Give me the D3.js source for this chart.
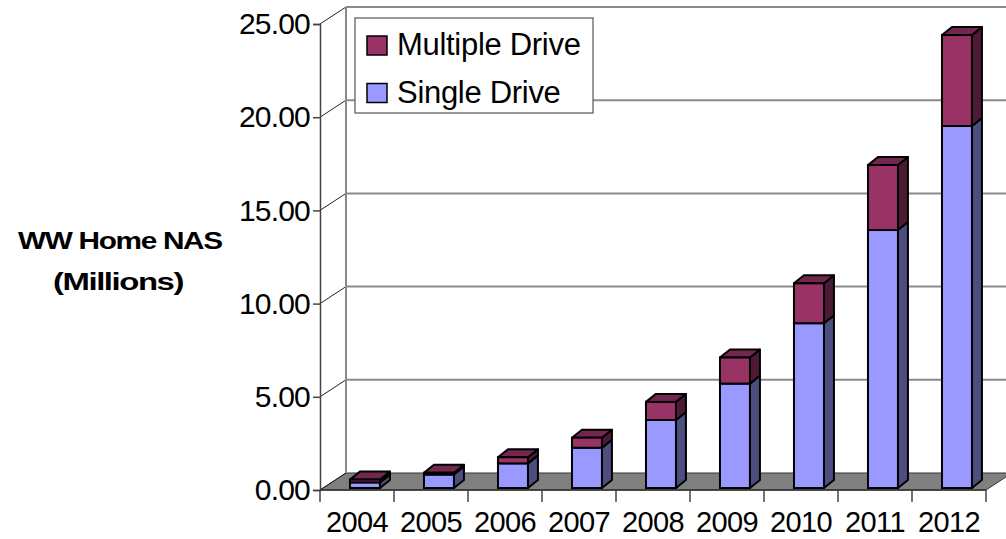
<!DOCTYPE html>
<html lang="en">
<head>
  <meta charset="UTF-8">
  <title>WW Home NAS</title>
  <style>
    * { padding: 0; margin: 0; }
    html, body { width: 1006px; height: 539px; overflow: hidden; background: #fff; }
    text { font-family: "Liberation Sans", Arial, sans-serif; }
  </style>
</head>
<body>
  <script src="https://d3js.org/d3.v7.min.js"></script>
  <script>
    // data (millions of units)
    const years = ['2004', '2005', '2006', '2007', '2008', '2009', '2010', '2011', '2012']
    const singleDrive = [0.30, 0.72, 1.32, 2.16, 3.65, 5.60, 8.84, 13.84, 19.42]
    const multipleDrive = [0.15, 0.10, 0.33, 0.54, 0.97, 1.40, 2.14, 3.49, 4.88]
    const yTicks = [0, 5, 10, 15, 20, 25]
    const seriesNames = ['Multiple Drive', 'Single Drive']

    const width = 1006, height = 539
    // front plane and the depth of the 3d box
    const plotLeft = 320, plotRight = 986, plotBottom = 490, plotTop = 24
    const depth = [26, -17]
    const barDepth = [10, -8]

    const colors = {
      single: { front: '#9999ff', side: '#4d4d80', top: '#7373bf' },
      multiple: { front: '#993366', side: '#4d1a33', top: '#732650' }
    }

    const svg = d3.select('body').append('svg').attr('width', width).attr('height', height)

    const x = d3.scaleBand().domain(years).range([plotLeft, plotRight]).paddingInner(0).paddingOuter(0)
    const y = d3.scaleLinear().domain([0, 25]).range([plotBottom, plotTop])

    const walls = svg.append('g')
    // floor
    walls.append('path')
      .attr('d', `M${plotLeft},${plotBottom} L${plotRight},${plotBottom} L${plotRight + depth[0]},${plotBottom + depth[1]} L${plotLeft + depth[0]},${plotBottom + depth[1]} Z`)
      .attr('fill', '#808080').attr('stroke', '#333').attr('stroke-width', 1)

    // gridlines on the back wall
    walls.selectAll('line.grid').data(yTicks.filter(d => d > 0)).enter().append('line')
      .attr('class', 'grid')
      .attr('x1', plotLeft + depth[0]).attr('x2', width)
      .attr('y1', d => y(d) + depth[1]).attr('y2', d => y(d) + depth[1])
      .attr('stroke', '#8a8a8a').attr('stroke-width', 2)

    // diagonals on the side wall
    walls.selectAll('line.diag').data(yTicks).enter().append('line')
      .attr('class', 'diag')
      .attr('x1', plotLeft).attr('x2', plotLeft + depth[0])
      .attr('y1', d => y(d)).attr('y2', d => y(d) + depth[1])
      .attr('stroke', '#222').attr('stroke-width', 1)

    // back corner of the side wall
    walls.append('line')
      .attr('x1', plotLeft + depth[0]).attr('x2', plotLeft + depth[0])
      .attr('y1', y(25) + depth[1]).attr('y2', plotBottom + depth[1])
      .attr('stroke', '#8a8a8a').attr('stroke-width', 2)

    // y axis
    const yAxis = svg.append('g')
      .attr('transform', `translate(${plotLeft},0)`)
      .call(d3.axisLeft(y).tickValues(yTicks).tickSize(7).tickPadding(3).tickFormat(d3.format('.2f')))
    yAxis.select('.domain').attr('stroke', '#444').attr('stroke-width', 1.5)
    yAxis.selectAll('.tick line').attr('stroke', '#444').attr('stroke-width', 1.5)
    yAxis.selectAll('.tick text').attr('font-size', 30).attr('fill', '#000')
      .attr('font-family', '"Liberation Sans", Arial, sans-serif').attr('letter-spacing', -0.8)

    // x axis, ticks between the categories
    svg.append('line').attr('x1', plotLeft).attr('x2', plotRight).attr('y1', plotBottom).attr('y2', plotBottom)
      .attr('stroke', '#333').attr('stroke-width', 1.5)
    svg.selectAll('line.xtick').data(years.concat(['end'])).enter().append('line')
      .attr('class', 'xtick')
      .attr('x1', d => d === 'end' ? plotRight : x(d)).attr('x2', d => d === 'end' ? plotRight : x(d))
      .attr('y1', plotBottom).attr('y2', plotBottom + 12)
      .attr('stroke', '#444').attr('stroke-width', 1.5)
    svg.selectAll('text.xlabel').data(years).enter().append('text')
      .attr('class', 'xlabel')
      .attr('x', d => x(d) + x.bandwidth() / 2).attr('y', 532)
      .attr('text-anchor', 'middle').attr('font-size', 29).attr('letter-spacing', -0.6)
      .text(d => d)

    // 3d bars
    const barW = x.bandwidth() * 0.405
    const barShift = [x.bandwidth() * 0.405, -2]
    const bars = svg.append('g')

    function drawBox (g, x0, yTop, yBase, c, withTop) {
      const x1 = x0 + barW
      const [dx, dy] = barDepth
      g.append('path')
        .attr('d', `M${x1},${yBase} L${x1 + dx},${yBase + dy} L${x1 + dx},${yTop + dy} L${x1},${yTop} Z`)
        .attr('fill', c.side).attr('stroke', '#000').attr('stroke-width', 2).attr('stroke-linejoin', 'round')
      if (withTop) {
        g.append('path')
          .attr('d', `M${x0},${yTop} L${x1},${yTop} L${x1 + dx},${yTop + dy} L${x0 + dx},${yTop + dy} Z`)
          .attr('fill', c.top).attr('stroke', '#000').attr('stroke-width', 2).attr('stroke-linejoin', 'round')
      }
      g.append('rect')
        .attr('x', x0).attr('y', yTop).attr('width', barW).attr('height', yBase - yTop)
        .attr('fill', c.front).attr('stroke', '#000').attr('stroke-width', 2)
    }

    years.forEach((yr, i) => {
      const g = bars.append('g')
      const x0 = x(yr) + barShift[0]
      const base = y(0) + barShift[1]
      const split = y(singleDrive[i]) + barShift[1]
      const total = y(singleDrive[i] + multipleDrive[i]) + barShift[1]
      drawBox(g, x0, split, base, colors.single, false)
      drawBox(g, x0, total, split, colors.multiple, true)
    })

    // legend
    const legend = svg.append('g')
    legend.append('rect').attr('x', 355).attr('y', 18).attr('width', 238).attr('height', 95)
      .attr('fill', '#fff').attr('stroke', '#555').attr('stroke-width', 1.2)
    const items = legend.selectAll('g.item').data(seriesNames).enter().append('g')
      .attr('class', 'item')
      .attr('transform', (d, i) => `translate(367,${36 + i * 47.5})`)
    items.append('rect').attr('width', 20).attr('height', 19)
      .attr('fill', d => d === 'Multiple Drive' ? colors.multiple.front : colors.single.front)
      .attr('stroke', '#000').attr('stroke-width', 1.5)
    items.append('text').attr('x', 30).attr('y', 19)
      .attr('font-size', 31).attr('letter-spacing', -0.3)
      .text(d => d)

    // axis title, stretched sideways like the original
    const title = svg.append('g').attr('font-weight', 'bold').attr('font-size', 23)
    const titleLines = [
      { text: 'WW Home NAS', x: 18, y: 249, w: 204 },
      { text: '(Millions)', x: 53, y: 290, w: 130 }
    ]
    titleLines.forEach(l => {
      const t = title.append('text').attr('letter-spacing', -1).text(l.text)
      const natural = t.node().getComputedTextLength()
      t.attr('transform', `translate(${l.x},${l.y}) scale(${l.w / natural},1)`)
    })
  </script>
</body>
</html>
